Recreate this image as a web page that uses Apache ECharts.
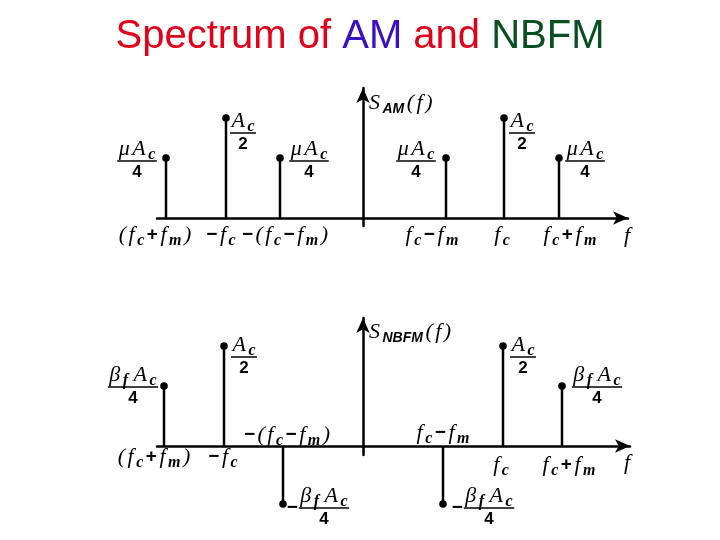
<!DOCTYPE html>
<html>
<head>
<meta charset="utf-8">
<title>Spectrum of AM and NBFM</title>
<script src="https://cdn.jsdelivr.net/npm/echarts@6/dist/echarts.min.js"></script>
<style>
  html, body { margin: 0; padding: 0; background: #fff; }
  #echar { width: 720px; height: 540px; }
</style>
</head>
<body>
<div id="echar"></div>
<script>
// line positions on the f axis and line heights (Ac/2 = 1)
const amFreq = [-19.7, -13.7, -8.3, 8.3, 14.1, 19.6];
const amAmp  = [0.6, 1.0, 0.6, 0.6, 1.0, 0.6];
const fmFreq = [-19.9, -13.9, -8.0, 8.0, 14.0, 19.9];
const fmAmp  = [0.6, 1.0, -0.58, -0.58, 1.0, 0.6];

// texts ( _x = subscript, _{..} = sans subscript )
const amNum   = ['μA_c', 'A_c', 'μA_c', 'μA_c', 'A_c', 'μA_c'];
const amDen   = ['4', '2', '4', '4', '2', '4'];
const fmNum   = ['β_f A_c', 'A_c', 'β_f A_c', 'β_f A_c', 'A_c', 'β_f A_c'];
const fmDen   = ['4', '2', '4', '4', '2', '4'];
const amTicks = ['(f_c+f_m)', '−f_c', '−(f_c−f_m)', 'f_c−f_m', 'f_c', 'f_c+f_m'];
const fmTicks = ['(f_c+f_m)', '−f_c', '−(f_c−f_m)', 'f_c−f_m', 'f_c', 'f_c+f_m'];

// where labels sit relative to the dot / stem foot (px)
const amLabelAt = [[-29, 3], [17, 15], [29, 3], [-30, 3], [18, 15], [26, 3]];
const fmLabelAt = [[-31, 1], [20, 11], [41, 4], [46, 4], [20, 11], [35, 1]];
const amTickAt  = [[-11, 17], [-5, 17], [5, 17], [-14, 17], [-2, 17], [11, 17]];
const fmTickAt  = [[-10, 11], [-1, 11], [4, -11], [0, -13], [-2, 19], [7, 19]];

const SERIF = 'Liberation Serif';
const SANS = 'Liberation Sans';
const GAP = 2.5; // loose math spacing like the slide
const ST = {
  it:   { fontStyle: 'italic', fontWeight: 'normal', fontSize: 22, fontFamily: SERIF, dy: 0 },
  sub:  { fontStyle: 'italic', fontWeight: 'bold', fontSize: 16, fontFamily: SERIF, dy: 6 },
  ssub: { fontStyle: 'italic', fontWeight: 'bold', fontSize: 14, fontFamily: SANS, dy: 6 },
  op:   { fontStyle: 'normal', fontWeight: 'bold', fontSize: 19, fontFamily: SANS, dy: 0 },
  dig:  { fontStyle: 'normal', fontWeight: 'bold', fontSize: 17, fontFamily: SANS, dy: 0 }
};

const ctx = document.createElement('canvas').getContext('2d');
function measure(t, s) {
  ctx.font = s.fontStyle + ' ' + s.fontWeight + ' ' + s.fontSize + 'px "' + s.fontFamily + '"';
  return ctx.measureText(t).width;
}

function parseMath(str) {
  const out = [];
  for (let i = 0; i < str.length; i++) {
    const ch = str[i];
    if (ch === '_') {
      if (str[i + 1] === '{') {
        const end = str.indexOf('}', i);
        out.push([str.slice(i + 2, end), 'ssub']);
        i = end;
      } else {
        out.push([str[++i], 'sub']);
      }
    } else if (ch === ' ') {
      out.push([' ', 'gap']);
    } else if (ch === '+' || ch === '−') {
      out.push([ch, 'op']);
    } else if (/[0-9]/.test(ch)) {
      out.push([ch, 'dig']);
    } else {
      out.push([ch, 'it']);
    }
  }
  return out;
}

// lay a math string out as text pieces, y is the middle line
function mathText(str, x, y, align) {
  const runs = parseMath(str);
  const widths = runs.map((r, k) => {
    if (r[1] === 'gap') return 3;
    const last = k === runs.length - 1;
    return measure(r[0], ST[r[1]]) + (last || r[1] === 'dig' ? 0 : GAP);
  });
  const w = widths.reduce((a, b) => a + b, 0);
  let cur = align === 'center' ? x - w / 2 : (align === 'right' ? x - w : x);
  const els = [];
  runs.forEach((r, k) => {
    if (r[1] !== 'gap') {
      const s = ST[r[1]];
      els.push({
        type: 'text', x: cur, y: y + s.dy,
        style: {
          text: r[0], fill: '#000', align: 'left', verticalAlign: 'middle',
          fontStyle: s.fontStyle, fontWeight: s.fontWeight, fontSize: s.fontSize, fontFamily: s.fontFamily
        }
      });
    }
    cur += widths[k];
  });
  return { els: els, w: w };
}

function fraction(num, den, cx, barY) {
  const n = mathText(num, cx, barY - 12, 'center');
  const d = mathText(den, cx, barY + 11, 'center');
  const w = n.w + 3;
  const els = n.els.concat(d.els);
  els.push({
    type: 'line',
    shape: { x1: cx - w / 2, y1: barY, x2: cx + w / 2, y2: barY },
    style: { stroke: '#000', lineWidth: 1.5 }
  });
  return { els: els, w: w };
}

function stemRender(nums, dens, ticks, labelAt, tickAt) {
  return function (params, api) {
    const i = params.dataIndex;
    const x = api.value(0), y = api.value(1);
    const base = api.coord([x, 0]);
    const tip = api.coord([x, y]);
    let kids = [
      { type: 'line', shape: { x1: base[0], y1: base[1], x2: tip[0], y2: tip[1] },
        style: { stroke: '#000', lineWidth: 2.5 } },
      { type: 'circle', shape: { cx: tip[0], cy: tip[1], r: 3.8 }, style: { fill: '#000' } }
    ];
    const cx = tip[0] + labelAt[i][0];
    const barY = tip[1] + labelAt[i][1];
    const fr = fraction(nums[i], dens[i], cx, barY);
    kids = kids.concat(fr.els);
    if (y < 0) {
      kids = kids.concat(mathText('−', cx - fr.w / 2 - 1, barY, 'right').els);
    }
    kids = kids.concat(mathText(ticks[i], base[0] + tickAt[i][0], base[1] + tickAt[i][1], 'center').els);
    return { type: 'group', children: kids };
  };
}

function axisLine() {
  return {
    onZero: true,
    symbol: ['none', 'arrow'],
    symbolSize: [10, 15],
    lineStyle: { color: '#000', width: 2.5 }
  };
}

function xAx(idx, max) {
  return {
    gridIndex: idx, type: 'value', min: -20.6, max: max,
    axisLine: axisLine(), axisTick: { show: false }, axisLabel: { show: false }, splitLine: { show: false }
  };
}

function yAx(idx, min, max) {
  return {
    gridIndex: idx, type: 'value', min: min, max: max,
    axisLine: axisLine(), axisTick: { show: false }, axisLabel: { show: false }, splitLine: { show: false }
  };
}

// axis names, fixed spots next to the arrows
let names = [];
names = names.concat(mathText('S_{AM}(f)', 369, 103, 'left').els);
names = names.concat(mathText('S_{NBFM}(f)', 369, 332, 'left').els);
names = names.concat(mathText('f', 627, 236, 'center').els);
names = names.concat(mathText('f', 627, 463, 'center').els);

let myCharts = echarts.init(document.getElementById('echar'));
let option = {
  animation: false,
  backgroundColor: '#fff',
  title: {
    text: '{r|Spectrum of }{b|AM}{r| and }{g|NBFM}',
    left: 'center',
    top: 12,
    textStyle: {
      fontFamily: SANS,
      fontSize: 40,
      fontWeight: 'normal',
      rich: {
        r: { color: '#e3001b', fontFamily: SANS, fontSize: 40 },
        b: { color: '#3a10c4', fontFamily: SANS, fontSize: 40 },
        g: { color: '#0a4f1f', fontFamily: SANS, fontSize: 40 }
      }
    }
  },
  grid: [
    { left: 157, top: 88, width: 471, height: 138 },
    { left: 157, top: 318, width: 473, height: 137 }
  ],
  xAxis: [xAx(0, 26.5), xAx(1, 26.7)],
  yAxis: [yAx(0, -0.08, 1.3), yAx(1, -0.09, 1.28)],
  graphic: names,
  series: [
    {
      type: 'custom', xAxisIndex: 0, yAxisIndex: 0, clip: false,
      renderItem: stemRender(amNum, amDen, amTicks, amLabelAt, amTickAt),
      data: amFreq.map((f, i) => [f, amAmp[i]])
    },
    {
      type: 'custom', xAxisIndex: 1, yAxisIndex: 1, clip: false,
      renderItem: stemRender(fmNum, fmDen, fmTicks, fmLabelAt, fmTickAt),
      data: fmFreq.map((f, i) => [f, fmAmp[i]])
    }
  ]
};
myCharts.setOption(option);
</script>
</body>
</html>
